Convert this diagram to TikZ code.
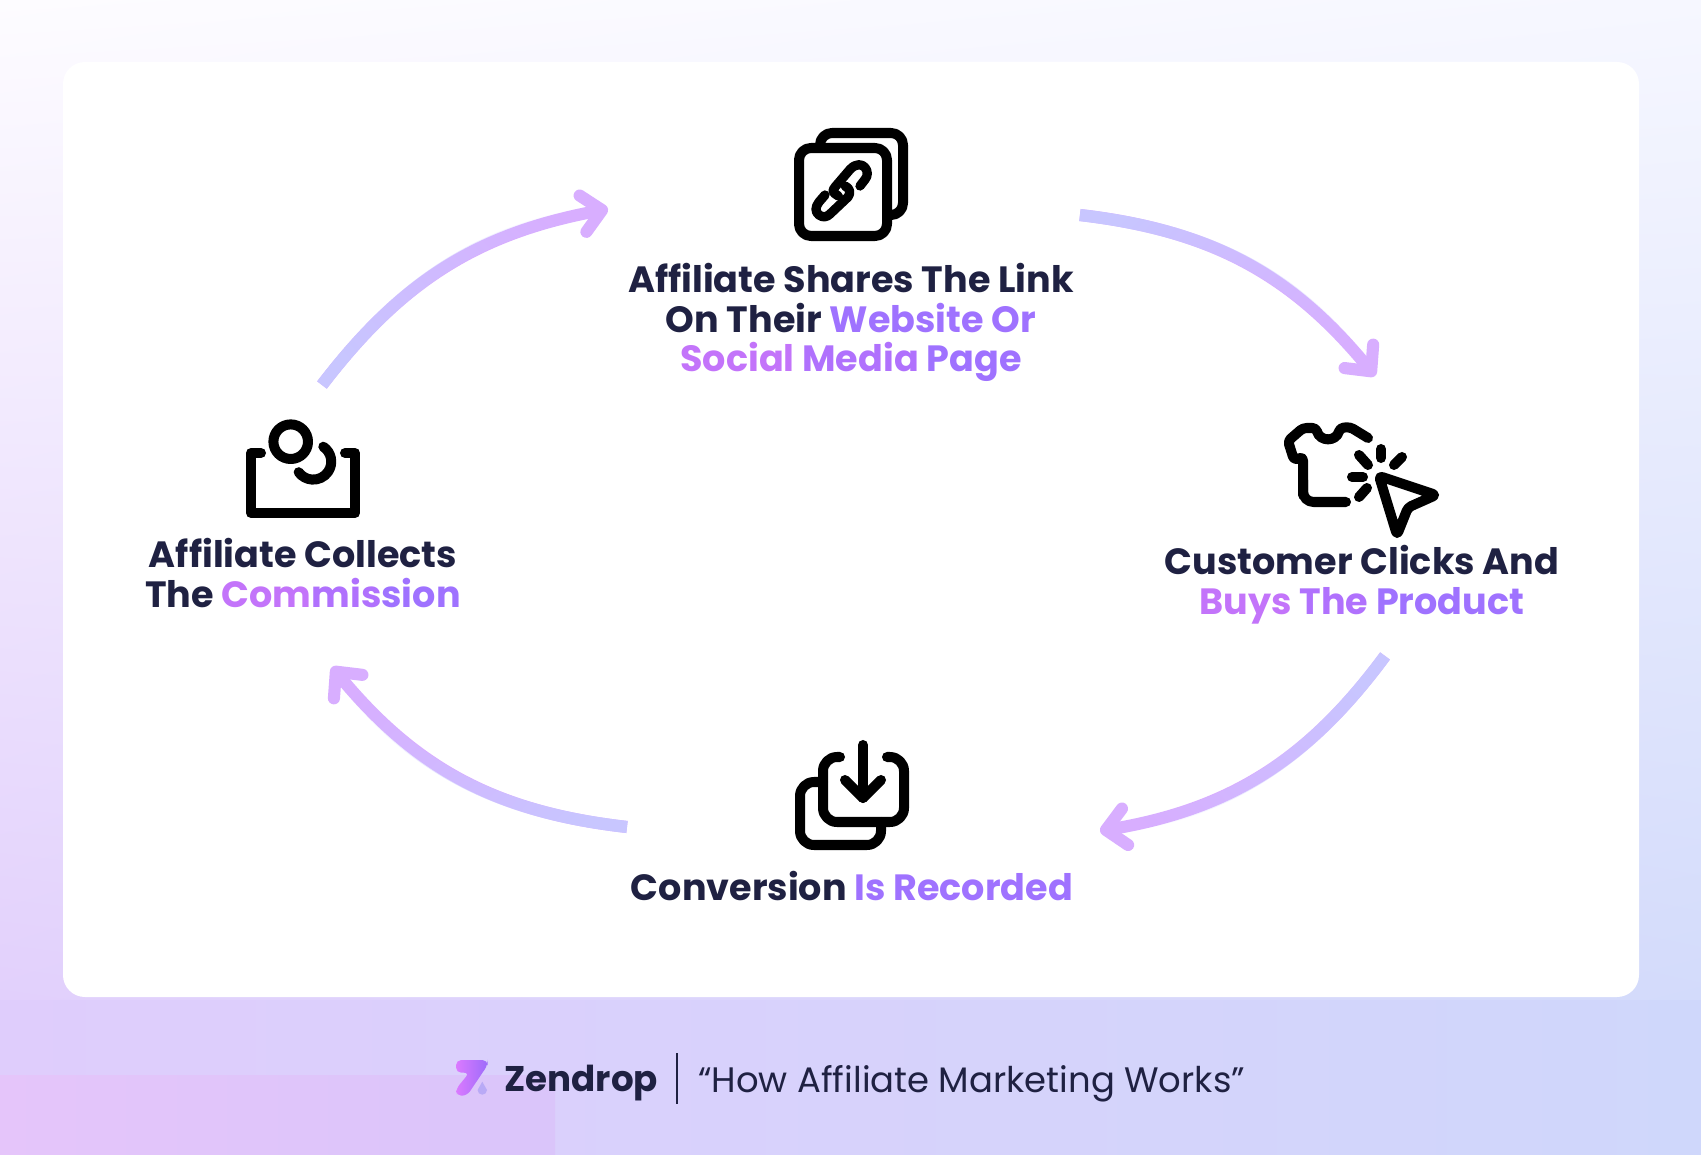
\documentclass[tikz,border=0pt]{standalone}
\usepackage{fontspec}
\setmainfont{Poppins}
\usepackage{xcolor}
\usetikzlibrary{arrows.meta, fadings, shadings}
\definecolor{inkblue}{HTML}{1F2142}
\definecolor{flowstart}{HTML}{C8C6FF}
\definecolor{flowend}{HTML}{D8AEFF}
\definecolor{bgtopleft}{HTML}{FDFCFF}
\definecolor{bgtopright}{HTML}{F6F7FF}
\definecolor{bgbotleft}{HTML}{E2D0FC}
\definecolor{bgbotright}{HTML}{D3DBFB}
\definecolor{footleft}{HTML}{DFCDFC}
\definecolor{footmid}{HTML}{D6CCFC}
\definecolor{footright}{HTML}{CFD7FB}
\definecolor{bandleft}{HTML}{E5C5FA}
\definecolor{bandright}{HTML}{DAC5FA}
\definecolor{logoleft}{HTML}{DB7AFF}
\definecolor{logoright}{HTML}{9D6CFA}
\definecolor{logodrop}{HTML}{B9AAF6}
\newcommand{\pinkw}[1]{\textcolor[HTML]{C374FA}{#1}}
\newcommand{\midw}[1]{\textcolor[HTML]{B071FD}{#1}}
\newcommand{\bluew}[1]{\textcolor[HTML]{9F72FF}{#1}}
\newcommand{\flowarrow}[4]{%
    \draw[flowend, line width=6.9pt, -{Straight Barb[round, length=11pt, width=21pt]}]
        (#1) to[bend left=#4] (#2);
    \draw[flowstart, line width=6.9pt, path fading=east, fading angle=#3, shorten >=14pt]
        (#1) to[bend left=#4] (#2);
}
\tikzset{
    steptext/.style={font=\fontsize{20.8pt}{22.6pt}\bfseries\selectfont, text=inkblue, align=center, inner sep=0pt},
    glyph/.style={black, line width=5.7pt, line cap=round, line join=round}
}

\begin{document}
\begin{tikzpicture}[x=0.02cm, y=-0.02cm]
    \useasboundingbox (0,0) rectangle (1701,1155);
    \shade[upper left=bgtopleft, upper right=bgtopright, lower left=bgbotleft, lower right=bgbotright] (0,0) rectangle (1701,1000);
    \shade[left color=footleft, middle color=footmid, right color=footright] (0,1000) rectangle (1701,1155);
    \shade[left color=bandleft, right color=bandright] (0,1075) rectangle (555,1155);
    \fill[white, rounded corners=12.5pt] (63,62) rectangle (1639,997);

    % cycle arrows
    \coordinate (shareout) at (1080,215);
    \coordinate (buyin) at (1375,376);
    \coordinate (buyout) at (1385,656);
    \coordinate (recordin) at (1100,831);
    \coordinate (recordout) at (627,827);
    \coordinate (collectin) at (332,667);
    \coordinate (collectout) at (322,385);
    \coordinate (sharein) at (608,209);
    \flowarrow{shareout}{buyin}{-28}{22}
    \flowarrow{buyout}{recordin}{-148}{22}
    \flowarrow{recordout}{collectin}{152}{22}
    \flowarrow{collectout}{sharein}{32}{21}

    % link icon
    \draw[glyph, rounded corners=6.8pt] (799,148) rectangle (887,236);
    \draw[glyph, rounded corners=6.8pt, line cap=butt] (820,148) -- (820,133) -- (903,133) -- (903,215) -- (887,215);
    \draw[glyph, line width=5.3pt] (838.3,196) .. controls (832,192) and (832,191) .. (835,187) -- (850,169.5) .. controls (856,163) and (862,164) .. (865,167.5) .. controls (868,171) and (868,176) .. (865,179.5) -- (860,186);
    \draw[glyph, line width=5.3pt] (825,195) -- (819,202) .. controls (815,207) and (815,212) .. (819,215) .. controls (823,218) and (827,217) .. (830,214) -- (848,197) .. controls (851,193) and (850,188) .. (845,186);

    % shirt and cursor icon
    \draw[glyph, rounded corners=2pt] (1368,438) -- (1350,427) -- (1340,428) .. controls (1336,442) and (1320,442) .. (1316,428) -- (1303,428) -- (1288,441) -- (1294,460) -- (1303,457) -- (1303,495);
    \draw[glyph, rounded corners=6pt] (1303,480) -- (1303,502) -- (1346,502);
    \draw[glyph] (1381,449) -- (1381,458);
    \draw[glyph] (1359,455) -- (1368,465);
    \draw[glyph] (1402,457) -- (1394,465);
    \draw[glyph] (1352,477) -- (1363,477);
    \draw[glyph] (1359,497) -- (1367,488);
    \draw[glyph, rounded corners=2pt] (1379,476) -- (1436,495) -- (1408,507.5) -- (1397,535) -- cycle;

    % commission icon
    \draw[glyph] (290.7,441.7) circle (17.3);
    \draw[glyph] (323.3,446.7) arc[start angle=-56, end angle=144, radius=18];
    \draw[glyph] (261,453) -- (251,453) -- (251,513) -- (355,513) -- (355,453) -- (345,453);

    % download icon
    \draw[glyph, rounded corners=8pt] (840,757) -- (823,757) -- (823,822) -- (904,822) -- (904,757) -- (887,757);
    \draw[glyph, rounded corners=8pt] (823,782) -- (800,782) -- (800,845) -- (881,845) -- (881,822);
    \draw[glyph] (863,745) -- (863,798);
    \draw[glyph] (845,780) -- (863,798) -- (881,780);

    % step labels
    \node[steptext, anchor=base] (share) at (851,372) {Affiliate Shares The Link\\On Their \bluew{Website Or}\\\pinkw{Social} \midw{Media} \bluew{Page}};
    \node[steptext, anchor=base] (buy) at (1362,614.5) {Customer Clicks And\\\pinkw{Buys} \midw{The} \bluew{Product}};
    \node[steptext, anchor=base] (record) at (852,900) {Conversion \bluew{Is Recorded}};
    \node[steptext, anchor=base] (collect) at (303,607.5) {Affiliate Collects\\The \pinkw{Com}\midw{mis}\bluew{sion}};

    % footer
    \shade[left color=logoleft, right color=logoright, rounded corners=3pt]
        (456,1060) -- (487.7,1060) -- (487.7,1065) -- (467,1095.7) -- (456,1095.7) -- (456,1089) -- (469.3,1072.7) -- (456,1072.7) -- cycle;
    \fill[logodrop] (482.3,1081.7) -- (487,1090) arc[start angle=0, end angle=180, radius=4.7] -- cycle;
    \node[anchor=base west, inner sep=0pt, text=inkblue, font=\fontsize{20.3pt}{24pt}\bfseries\selectfont] (brand) at (504,1091.5) {Zendrop};
    \coordinate (rulestart) at (677,1053);
    \coordinate (ruleend) at (677,1104);
    \draw[inkblue, line width=1pt] (rulestart) -- (ruleend);
    \node[anchor=base west, inner sep=0pt, text=inkblue, font=\fontsize{20.15pt}{24pt}\selectfont] (caption) at (698,1092) {“How Affiliate Marketing Works”};
\end{tikzpicture}
\end{document}
